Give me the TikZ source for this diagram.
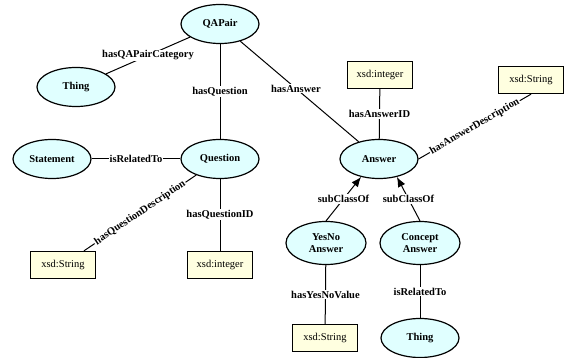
\documentclass[tikz,border=0pt]{standalone}
\usepackage{fontspec}
\setmainfont{Liberation Serif}
\usetikzlibrary{arrows.meta,shapes.geometric}
\definecolor{classfill}{HTML}{E0FFFF}
\definecolor{typefill}{HTML}{FFFFE0}
\begin{document}
\begin{tikzpicture}[x=1pt,y=-1pt,
  cls/.style={ellipse, draw, line width=1.2pt, fill=classfill, minimum width=78pt,
    minimum height=39pt, inner sep=0pt, align=center,
    font=\fontsize{10.5}{12}\selectfont\bfseries},
  cls2/.style={cls, minimum width=80pt, minimum height=43pt},
  dtype/.style={rectangle, draw, line width=1.4pt, fill=typefill, minimum width=65pt,
    minimum height=27pt, inner sep=0pt, font=\fontsize{10.5}{12}\selectfont},
  prop/.style={fill=white, inner sep=1pt, font=\fontsize{10.5}{12}\selectfont\bfseries},
  link/.style={draw, line width=1pt},
  isa/.style={link, -{Latex[length=10pt,width=8pt]}}
]
\useasboundingbox (0,0) rectangle (566,358);

% classes
\node[cls] (qapair) at (220,24) {QAPair};
\node[cls] (thingA) at (76,87) {Thing};
\node[cls] (statement) at (52,159) {Statement};
\node[cls] (question) at (220,159) {Question};
\node[cls] (answer) at (379,159) {Answer};
\node[cls2] (yesno) at (326,243) {YesNo\\Answer};
\node[cls2] (concept) at (420,243) {Concept\\Answer};
\node[cls] (thingB) at (420,338) {Thing};

% datatypes
\node[dtype] (ansid) at (380,75) {xsd:integer};
\node[dtype] (ansdesc) at (531,80) {xsd:String};
\node[dtype] (qdesc) at (63,265) {xsd:String};
\node[dtype] (qid) at (220,265) {xsd:integer};
\node[dtype] (ynval) at (325,338) {xsd:String};

% properties
\draw[link] (qapair) -- node[prop] {hasQAPairCategory} (thingA);
\draw[link] (qapair) -- node[prop] {hasQuestion} (question);
\draw[link] (qapair) -- node[prop, pos=0.47] {hasAnswer} (answer);
\draw[link] (ansid) -- node[prop] {hasAnswerID} (answer);
\draw[link] (answer.east) -- node[prop, sloped] {hasAnswerDescription} (ansdesc.south);
\draw[link] (statement) -- node[prop] {isRelatedTo} (question);
\draw[link] (question) -- node[prop, sloped] {hasQuestionDescription} (qdesc);
\draw[link] (question) -- node[prop] {hasQuestionID} (qid);
\draw[link] (yesno) -- node[prop] {hasYesNoValue} (ynval);
\draw[link] (concept) -- node[prop] {isRelatedTo} (thingB);

% subclass relations
\draw[isa] (yesno.north) -- node[prop] {subClassOf} (answer.-135);
\draw[isa] (concept.north) -- node[prop] {subClassOf} (answer.-45);
\end{tikzpicture}
\end{document}
